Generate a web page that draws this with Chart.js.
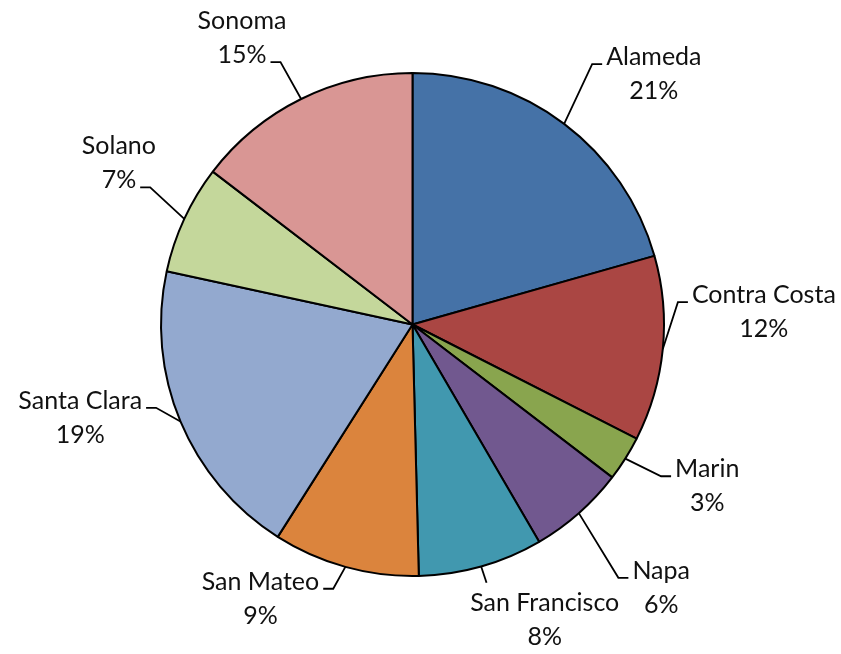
<!DOCTYPE html>
<html>
<head>
<meta charset="utf-8">
<title>Bay Area counties</title>
<script src="https://cdn.jsdelivr.net/npm/chart.js@4/dist/chart.umd.min.js"></script>
<style>
    html, body { margin: 0; padding: 0; background: #fff; }
    #wrap { width: 841px; height: 654px; }
</style>
</head>
<body>
<div id="wrap"><canvas id="pieChart" width="841" height="654"></canvas></div>
<script>
/* ============================================================
   Data
   ============================================================ */
const counties = ['Alameda', 'Contra Costa', 'Marin', 'Napa', 'San Francisco',
                  'San Mateo', 'Santa Clara', 'Solano', 'Sonoma'];
const shares = [20.6, 11.9, 2.9, 6.2, 8.0, 9.4, 19.4, 7.0, 14.6];
const sliceColors = ['#4572A7', '#AA4643', '#89A54E', '#71588F', '#4198AF',
                     '#DB843D', '#93A9CF', '#C4D79B', '#D99694'];

// label placement (elbow of the leader line: angle clockwise from top, distance in radii)
const labelLayout = [
    { angle: 34.6,  dist: 1.258, side: 'right' },
    { angle: 85.2,  dist: 1.059, side: 'right' },
    { angle: 121.4, dist: 1.158, side: 'right' },
    { angle: 140.9, dist: 1.298, side: 'right' },
    { angle: 164.0, dist: 1.068, side: 'top' },
    { angle: 196.7, dist: 1.097, side: 'left' },
    { angle: 252.0, dist: 1.072, side: 'left' },
    { angle: 297.6, dist: 1.177, side: 'left', line: 1 },
    { angle: 333.3, dist: 1.168, side: 'left', line: 1 }
];

/* ============================================================
   Labels + leader lines
   ============================================================ */
const leaderLabels = {
    id: 'leaderLabels',
    afterDatasetsDraw(chart, args, opts) {
        const ctx = chart.ctx;
        const meta = chart.getDatasetMeta(0);
        const data = chart.data.datasets[0].data;
        const total = data.reduce((acc, v) => acc + v, 0);
        const lineH = opts.lineHeight;

        ctx.save();
        ctx.font = opts.font;
        ctx.fillStyle = opts.color;
        ctx.strokeStyle = '#000';
        ctx.lineWidth = 1.8;
        ctx.textAlign = 'center';
        ctx.textBaseline = 'alphabetic';

        meta.data.forEach((arc, i) => {
            const lay = labelLayout[i];
            const R = arc.outerRadius;
            const mid = (arc.startAngle + arc.endAngle) / 2;
            const sx = arc.x + Math.cos(mid) * R;
            const sy = arc.y + Math.sin(mid) * R;
            const a = lay.angle * Math.PI / 180;
            const ex = arc.x + Math.sin(a) * R * lay.dist;
            const ey = arc.y - Math.cos(a) * R * lay.dist;

            const lines = [chart.data.labels[i], Math.round(data[i] / total * 100) + '%'];
            const attach = lay.line || 0;
            const w = ctx.measureText(lines[attach]).width;

            ctx.beginPath();
            ctx.moveTo(sx, sy);
            ctx.lineTo(ex, ey);

            let cx, base;
            if (lay.side === 'top') {
                cx = ex + 0.39 * ctx.measureText(lines[0]).width;
                base = ey + 28;
            } else {
                const dir = lay.side === 'right' ? 1 : -1;
                const stubX = ex + dir * opts.stub;
                ctx.lineTo(stubX, ey);
                cx = stubX + dir * (opts.gap + w / 2);
                base = ey + 1 - attach * lineH;
            }
            ctx.stroke();

            lines.forEach((t, k) => ctx.fillText(t, cx, base + k * lineH));
        });
        ctx.restore();
    }
};

/* ============================================================
   Pie
   ============================================================ */
const ctx = document.getElementById('pieChart').getContext('2d');
new Chart(ctx, {
    type: 'pie',
    data: {
        labels: counties,
        datasets: [{
            data: shares,
            backgroundColor: sliceColors,
            borderColor: '#000',
            borderWidth: 2
        }]
    },
    options: {
        responsive: false,
        animation: false,
        layout: { padding: { left: 160, right: 176, top: 72, bottom: 77 } },
        plugins: {
            legend: { display: false },
            tooltip: { enabled: false },
            leaderLabels: {
                font: '25px Lato',
                color: '#111',
                lineHeight: 34,
                stub: 10,
                gap: 4
            }
        }
    },
    plugins: [leaderLabels]
});
</script>
</body>
</html>
